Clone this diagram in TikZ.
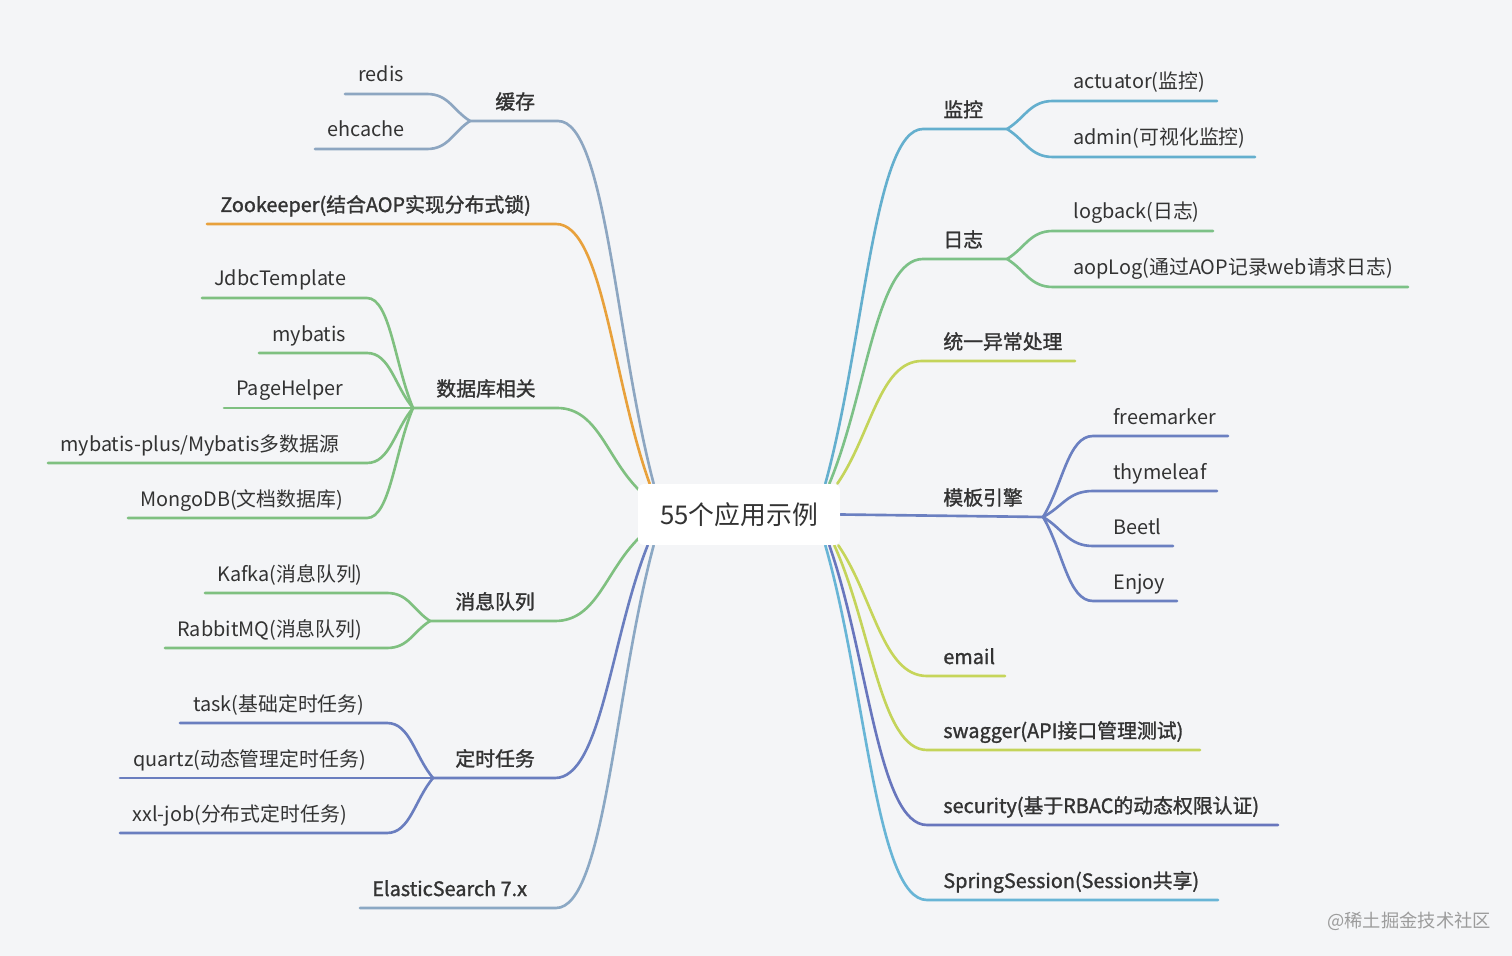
\documentclass[tikz,border=0pt]{standalone}
\usepackage{fontspec}
\setmainfont{Noto Sans CJK SC}
\newfontfamily\boldcjk{Noto Sans CJK SC}[FakeBold=1.3]
\usetikzlibrary{calc,backgrounds}
\definecolor{bgc}{HTML}{F4F5F7}
\definecolor{txt}{HTML}{333333}
\definecolor{wmk}{HTML}{9C9C9C}
\definecolor{cHC}{HTML}{8DA6C1}
\definecolor{cZK}{HTML}{E8A13C}
\definecolor{cDB}{HTML}{7FC080}
\definecolor{cMQ}{HTML}{7FC080}
\definecolor{cDS}{HTML}{6A7EBF}
\definecolor{cES}{HTML}{8BA8C4}
\definecolor{cJK}{HTML}{64AFCE}
\definecolor{cRZ}{HTML}{7CC187}
\definecolor{cTY}{HTML}{C4D45A}
\definecolor{cMB}{HTML}{6B80C1}
\definecolor{cEM}{HTML}{C6D55A}
\definecolor{cSW}{HTML}{C4D45A}
\definecolor{cSE}{HTML}{6876BD}
\definecolor{cSS}{HTML}{68B5D6}
\tikzset{
  leaf/.style={inner sep=0pt, text=txt, anchor=base west, font=\fontsize{11.3}{13}\selectfont},
  blabel/.style={inner sep=0pt, text=txt, anchor=base west, font=\boldcjk\fontsize{11.3}{13}\selectfont},
  ln/.style={line width=1.5pt, line cap=round},
  rootbox/.style={fill=white, rounded corners=0.12cm, minimum width=4.04cm, minimum height=1.22cm, inner sep=0pt, text=txt, font=\fontsize{14.7}{17}\selectfont},
  wmark/.style={inner sep=0pt, text=wmk, anchor=base west, font=\fontsize{10.4}{12}\selectfont},
}
% line from A to horizontal end E, then smooth curve into P
\newcommand\hcurve[4]{\draw[ln,#1] (#2) -- (#3) .. controls ($(#3)!0.5!(#3 -| #4)$) and ($(#3)!0.6!(#4)$) .. (#4);}
\begin{document}
\begin{tikzpicture}[x=0.02cm,y=-0.02cm]
\useasboundingbox (0,0) rectangle (1512,956);
% ---------- centre
\node[rootbox] (root) at (739,514.5) {55个应用示例};
% ---------- left labels
\node[blabel] (hc) at (495,109) {缓存};
\node[blabel] (zk) at (220,212) {Zookeeper(结合AOP实现分布式锁)};
\node[blabel] (db) at (436,396) {数据库相关};
\node[blabel] (mq) at (455,609) {消息队列};
\node[blabel] (ds) at (455,766) {定时任务};
\node[blabel] (es) at (372,896) {ElasticSearch 7.x};
\node[leaf] (redis) at (358,82) {redis};
\node[leaf] (ehc) at (327,137) {ehcache};
\node[leaf] (jdbc) at (214,286) {JdbcTemplate};
\node[leaf] (myb) at (272,341) {mybatis};
\node[leaf] (page) at (236,396) {PageHelper};
\node[leaf] (mplus) at (60,451) {mybatis-plus/Mybatis多数据源};
\node[leaf] (mongo) at (140,506) {MongoDB(文档数据库)};
\node[leaf] (kafka) at (217,581) {Kafka(消息队列)};
\node[leaf] (rabbit) at (177,636) {RabbitMQ(消息队列)};
\node[leaf] (task) at (193,711) {task(基础定时任务)};
\node[leaf] (quartz) at (133,766) {quartz(动态管理定时任务)};
\node[leaf] (xxl) at (132,821) {xxl-job(分布式定时任务)};
% ---------- right labels
\node[blabel] (jk) at (943,117) {监控};
\node[leaf] (act) at (1073,89) {actuator(监控)};
\node[leaf] (adm) at (1073,145) {admin(可视化监控)};
\node[blabel] (rz) at (943,247) {日志};
\node[leaf] (logb) at (1073,219) {logback(日志)};
\node[leaf] (aop) at (1073,275) {aopLog(通过AOP记录web请求日志)};
\node[blabel] (ty) at (943,349) {统一异常处理};
\node[blabel] (mb) at (943,505) {模板引擎};
\node[leaf] (fm) at (1113,424) {freemarker};
\node[leaf] (thy) at (1113,479) {thymeleaf};
\node[leaf] (beetl) at (1113,534) {Beetl};
\node[leaf] (enjoy) at (1113,589) {Enjoy};
\node[blabel] (em) at (943,664) {email};
\node[blabel] (sw) at (943,738) {swagger(API接口管理测试)};
\node[blabel] (se) at (943,813) {security(基于RBAC的动态权限认证)};
\node[blabel] (ss) at (943,888) {SpringSession(Session共享)};
\node[wmark] (wm) at (1327,927) {@稀土掘金技术社区};
% ---------- attach points on the centre box
\coordinate (aHC) at ($(root.north west)+(16,0)$);
\coordinate (aZK) at ($(root.north west)+(12,0)$);
\coordinate (aDB) at ($(root.north west)+(1,6)$);
\coordinate (aMQ) at ($(root.south west)+(1,-7)$);
\coordinate (aDS) at ($(root.south west)+(10,0)$);
\coordinate (aES) at ($(root.south west)+(16,0)$);
\coordinate (aJK) at ($(root.north east)+(-15,0)$);
\coordinate (aRZ) at ($(root.north east)+(-11,0)$);
\coordinate (aTY) at ($(root.north east)+(-3,0)$);
\coordinate (aEM) at ($(root.south east)+(-2,0)$);
\coordinate (aSW) at ($(root.south east)+(-6,0)$);
\coordinate (aSE) at ($(root.south east)+(-11,0)$);
\coordinate (aSS) at ($(root.south east)+(-15,0)$);
% ---------- split points and line ends (left)
\coordinate (sHC) at (470,121); \coordinate (bHC) at (558,121);
\coordinate (lZK) at (207,224); \coordinate (bZK) at (556,224);
\coordinate (sDB) at (413,408); \coordinate (bDB) at (557,408);
\coordinate (sMQ) at (430,621); \coordinate (bMQ) at (555,621);
\coordinate (sDS) at (433,778); \coordinate (bDS) at (555,778);
\coordinate (lES) at (360,908); \coordinate (bES) at (556,908);
\coordinate (lredis) at (345,94);  \coordinate (eredis) at (427,94);
\coordinate (lehc) at (315,149);   \coordinate (eehc) at (427,149);
\coordinate (ljdbc) at (202,298);  \coordinate (ejdbc) at (367,298);
\coordinate (lmyb) at (259,353);   \coordinate (emyb) at (367,353);
\coordinate (lpage) at (224,408);
\coordinate (lmplus) at (48,463);  \coordinate (emplus) at (367,463);
\coordinate (lmongo) at (128,518); \coordinate (emongo) at (367,518);
\coordinate (lkafka) at (205,593); \coordinate (ekafka) at (387,593);
\coordinate (lrabbit) at (165,648);\coordinate (erabbit) at (387,648);
\coordinate (ltask) at (180,723);  \coordinate (etask) at (387,723);
\coordinate (lquartz) at (120,778);
\coordinate (lxxl) at (120,833);   \coordinate (exxl) at (387,833);
% ---------- split points and line ends (right)
\coordinate (bJK) at (923,129); \coordinate (sJK) at (1007,129);
\coordinate (eact) at (1053,101); \coordinate (ract) at (1217,101);
\coordinate (eadm) at (1053,157); \coordinate (radm) at (1255,157);
\coordinate (bRZ) at (923,259); \coordinate (sRZ) at (1007,259);
\coordinate (elogb) at (1053,231); \coordinate (rlogb) at (1213,231);
\coordinate (eaop) at (1053,287); \coordinate (raop) at (1408,287);
\coordinate (bTY) at (922,361); \coordinate (rTY) at (1075,361);
\coordinate (sMB) at (1043,517);
\coordinate (efm) at (1093,436); \coordinate (rfm) at (1228,436);
\coordinate (ethy) at (1093,491); \coordinate (rthy) at (1217,491);
\coordinate (ebeetl) at (1093,546); \coordinate (rbeetl) at (1173,546);
\coordinate (eenjoy) at (1093,601); \coordinate (renjoy) at (1177,601);
\coordinate (bEM) at (927,676); \coordinate (rEM) at (1005,676);
\coordinate (bSW) at (927,750); \coordinate (rSW) at (1200,750);
\coordinate (bSE) at (927,825); \coordinate (rSE) at (1278,825);
\coordinate (bSS) at (927,900); \coordinate (rSS) at (1218,900);
\begin{scope}[on background layer]
\fill[bgc] (0,0) rectangle (1512,956);
% left main branches
\hcurve{cHC}{sHC}{bHC}{aHC}
\hcurve{cZK}{lZK}{bZK}{aZK}
\hcurve{cDB}{sDB}{bDB}{aDB}
\hcurve{cMQ}{sMQ}{bMQ}{aMQ}
\hcurve{cDS}{sDS}{bDS}{aDS}
\hcurve{cES}{lES}{bES}{aES}
% left leaves
\hcurve{cHC}{lredis}{eredis}{sHC}
\hcurve{cHC}{lehc}{eehc}{sHC}
\hcurve{cDB}{ljdbc}{ejdbc}{sDB}
\hcurve{cDB}{lmyb}{emyb}{sDB}
\draw[ln,cDB] (lpage) -- (sDB);
\hcurve{cDB}{lmplus}{emplus}{sDB}
\hcurve{cDB}{lmongo}{emongo}{sDB}
\hcurve{cMQ}{lkafka}{ekafka}{sMQ}
\hcurve{cMQ}{lrabbit}{erabbit}{sMQ}
\hcurve{cDS}{ltask}{etask}{sDS}
\draw[ln,cDS] (lquartz) -- (sDS);
\hcurve{cDS}{lxxl}{exxl}{sDS}
% right main branches
\hcurve{cJK}{sJK}{bJK}{aJK}
\hcurve{cRZ}{sRZ}{bRZ}{aRZ}
\hcurve{cTY}{rTY}{bTY}{aTY}
\draw[ln,cMB] (root.east) -- (sMB);
\hcurve{cEM}{rEM}{bEM}{aEM}
\hcurve{cSW}{rSW}{bSW}{aSW}
\hcurve{cSE}{rSE}{bSE}{aSE}
\hcurve{cSS}{rSS}{bSS}{aSS}
% right leaves
\hcurve{cJK}{ract}{eact}{sJK}
\hcurve{cJK}{radm}{eadm}{sJK}
\hcurve{cRZ}{rlogb}{elogb}{sRZ}
\hcurve{cRZ}{raop}{eaop}{sRZ}
\hcurve{cMB}{rfm}{efm}{sMB}
\hcurve{cMB}{rthy}{ethy}{sMB}
\hcurve{cMB}{rbeetl}{ebeetl}{sMB}
\hcurve{cMB}{renjoy}{eenjoy}{sMB}
\end{scope}
\end{tikzpicture}
\end{document}
